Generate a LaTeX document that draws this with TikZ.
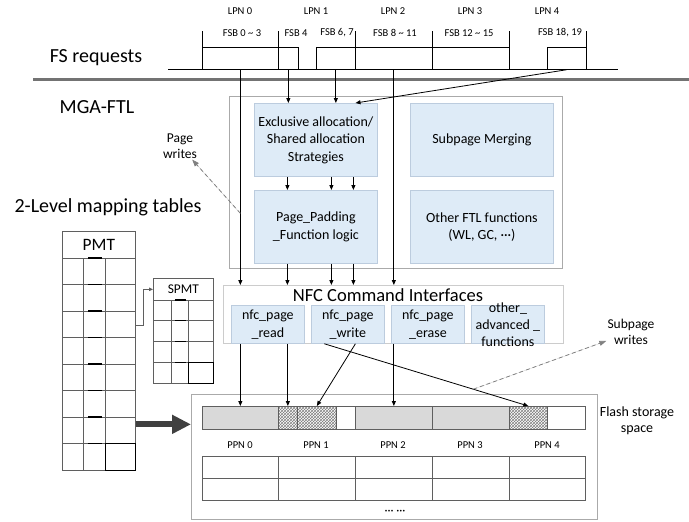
\documentclass[tikz,border=0pt]{standalone}
\usepackage{fontspec}
\setmainfont{Carlito}
\usetikzlibrary{positioning,arrows.meta,patterns,calc}
\definecolor{fnblue}{RGB}{222,235,247}
\definecolor{fnedge}{RGB}{188,204,222}
\definecolor{framegray}{RGB}{170,170,170}
\definecolor{pagegray}{RGB}{217,217,217}
\definecolor{linegray}{RGB}{95,95,95}
\tikzset{
  flowarrow/.style={-{Triangle[length=5pt,width=4pt]}, line width=0.8pt},
  writearrow/.style={-{Triangle[length=7pt,width=5pt]}, dash pattern=on 4pt off 3pt, draw=gray, fill=gray, line width=0.8pt},
  bigarrow/.style={-{Triangle[length=19pt,width=18pt]}, line width=6pt, draw=black!75},
  fnbox/.style={draw=fnedge, fill=fnblue, line width=0.8pt, anchor=north west, inner sep=0pt, align=center, font=\fontsize{14}{17.5}\selectfont},
  fntext/.style={font=\fontsize{14}{17.5}\selectfont, align=center, inner sep=0pt},
  ftlframe/.style={draw=framegray, line width=0.8pt, anchor=north west, inner sep=0pt},
  reqbox/.style={draw, line width=0.7pt, anchor=north west, inner sep=0pt, minimum height=22pt},
  pagecell/.style={draw=linegray, line width=0.7pt, anchor=north west, inner sep=0pt, minimum height=23pt},
  tabcell/.style={draw=linegray, line width=0.7pt, anchor=north west, inner sep=0pt},
  tinylabel/.style={font=\fontsize{10.5}{12}\selectfont, inner sep=0pt},
  sidelabel/.style={font=\fontsize{14}{16}\selectfont, inner sep=1pt, align=center},
  headlabel/.style={font=\fontsize{20}{24}\selectfont, inner sep=0pt}
}

\begin{document}
\begin{tikzpicture}[x=1pt, y=-1pt, >=Latex]
  \useasboundingbox (0,0) rectangle (689,522);

  % FS requests
  \node[headlabel] (fsreq) at (96,58) {FS requests};
  \draw[line width=3pt, draw=black!55] (33,79) -- (689,79);
  \draw[line width=0.7pt] (168,69) -- (618,69);
  \foreach \x in {202,278,355,432,509,586} \draw[line width=0.7pt] (\x,31) -- (\x,69);
  \foreach \x/\n in {240/0,316/1,393/2,470/3,547/4} \node[tinylabel] (lpn\n) at (\x,11) {LPN \n};
  \foreach \x/\t [count=\i] in {242/{FSB 0 \textasciitilde{} 3},296/{FSB 4},337/{FSB 6, 7},395/{FSB 8 \textasciitilde{} 11},469/{FSB 12 \textasciitilde{} 15},560/{FSB 18, 19}}
    \node[tinylabel] (fsbtext\i) at (\x,33) {\t};
  \node[reqbox, minimum width=76pt] (fsb0) at (202,47) {};
  \node[reqbox, minimum width=20pt] (fsb4) at (278,47) {};
  \node[reqbox, minimum width=39pt] (fsb67) at (316,47) {};
  \node[reqbox, minimum width=77pt] (fsb811) at (355,47) {};
  \node[reqbox, minimum width=77pt] (fsb1215) at (432,47) {};
  \node[reqbox, minimum width=39pt] (fsb1819) at (547,47) {};

  % MGA-FTL
  \node[headlabel] (mga) at (97,107) {MGA-FTL};
  \node[ftlframe, minimum width=333pt, minimum height=172pt] (ftl) at (229,96) {};
  \node[fnbox, minimum width=123pt, minimum height=73pt] (excl) at (254,103) {Exclusive allocation/\\Shared allocation\\Strategies};
  \node[fnbox, minimum width=123pt, minimum height=73pt] (pad) at (254,190) {Page\_Padding\\\_Function logic};
  \node[fnbox, minimum width=143pt, minimum height=73pt] (merge) at (410,103) {Subpage Merging};
  \node[fnbox, minimum width=143pt, minimum height=73pt] (other) at (410,190) {Other FTL functions\\(WL, GC, ···)};

  % NFC
  \node[ftlframe, draw=black!20, minimum width=340pt, minimum height=58pt] (nfc) at (223,285) {};
  \node[font=\fontsize{18.5}{22}\selectfont, inner sep=0pt] (nfctitle) at (388,295) {NFC Command Interfaces};
  \node[fnbox, minimum width=73pt, minimum height=38pt, font=\fontsize{14}{18}\selectfont] (read) at (231,305) {nfc\_page\\\_read};
  \node[fnbox, minimum width=73pt, minimum height=38pt, font=\fontsize{14}{18}\selectfont] (write) at (311,305) {nfc\_page\\\_write};
  \node[fnbox, minimum width=73pt, minimum height=38pt, font=\fontsize{14}{18}\selectfont] (erase) at (391,305) {nfc\_page\\\_erase};
  \node[fnbox, minimum width=73pt, minimum height=38pt,
        label={[fntext, font=\fontsize{14}{17}\selectfont]center:other\_\\advanced \_\\functions}] (adv) at (471,305) {};

  % requests into FTL
  \draw[flowarrow] (fsb0.south) -- (fsb0.south |- nfc.north);
  \draw[flowarrow] (fsb4.south) -- (fsb4.south |- excl.north);
  \draw[flowarrow] (fsb67.south) -- (fsb67.south |- excl.north);
  \draw[flowarrow] (fsb811.south) -- (fsb811.south |- nfc.north);
  \draw[flowarrow] (fsb1819.south) -- ($(excl.north)!0.64!(excl.north east)$);
  \foreach \d in {-28.5,15.5,37.5} {
    \draw[flowarrow] ([xshift=\d pt]excl.south) -- ([xshift=\d pt]pad.north);
    \draw[flowarrow] ([xshift=\d pt]pad.south) -- ([xshift=\d pt]pad.south |- nfc.north);
  }

  % flash storage
  \node[ftlframe, minimum width=406pt, minimum height=125pt] (flash) at (191,394) {};
  \node[pagecell, fill=pagegray, minimum width=76pt] (fl0) at (202,406) {};
  \node[pagecell, pattern=crosshatch, pattern color=black!50, minimum width=19pt] (fl1a) at (278,406) {};
  \node[pagecell, pattern=crosshatch, pattern color=black!50, minimum width=39pt] (fl1b) at (297,406) {};
  \node[pagecell, minimum width=19pt] (fl1c) at (336,406) {};
  \node[pagecell, fill=pagegray, minimum width=77pt] (fl2) at (355,406) {};
  \node[pagecell, fill=pagegray, minimum width=77pt] (fl3) at (432,406) {};
  \node[pagecell, pattern=crosshatch, pattern color=black!50, minimum width=38pt] (fl4a) at (509,406) {};
  \node[pagecell, minimum width=38pt] (fl4b) at (547,406) {};
  \foreach \x/\n in {240/0,316/1,393/2,470/3,547/4} \node[tinylabel] (ppn\n) at (\x,445) {PPN \n};
  \draw[linegray, line width=0.7pt] (202,456) rectangle (585,500);
  \draw[linegray, line width=0.7pt] (202,478) -- (585,478);
  \foreach \x in {278,355,432,509} \draw[linegray, line width=0.7pt] (\x,456) -- (\x,500);
  \node[tinylabel, font=\fontsize{12}{14}\selectfont] (more) at (395,512) {··· ···};
  \node[sidelabel] (flashlbl) at (637,421) {Flash storage\\space};

  % commands into flash
  \draw[flowarrow] (fl0.north |- read.south) -- (fl0.north);
  \draw[flowarrow] (fl1a.north |- read.south) -- (fl1a.north);
  \draw[flowarrow] ([xshift=7.5pt]write.south) -- (fl1b.north);
  \draw[flowarrow] (fl2.north |- erase.south) -- (fl2.north);
  \coordinate (longtail) at ([xshift=-23.5pt]write.south);
  \draw[flowarrow] (longtail) -- (fl4a.north);

  % write labels
  \node[sidelabel, font=\fontsize{13.5}{16}\selectfont] (pagewr) at (180,146) {Page\\writes};
  \draw[writearrow] ($(fsb0.south)!0.667!(fsb0.south |- nfc.north)$) -- (pagewr);
  \node[sidelabel, font=\fontsize{13.5}{16}\selectfont] (subwr) at (631,332) {Subpage\\writes};
  \draw[writearrow] ($(longtail)!0.73!(fl4a.north)$) -- (subwr);

  % mapping tables
  \node[headlabel] (maptabs) at (108,207) {2-Level mapping tables};
  \node[tabcell, minimum width=73pt, minimum height=27pt, font=\fontsize{17.4}{20}\selectfont] (pmt) at (62,231) {PMT};
  \node[tabcell, minimum width=73pt, minimum height=212pt] (pmtbody) at (62,258) {};
  \foreach \i in {1,...,7} \draw[linegray, line width=0.7pt] (62,{258+26.5*\i}) -- (135,{258+26.5*\i});
  \foreach \x in {83,105} \draw[linegray, line width=0.7pt] (\x,258) -- (\x,470);
  \foreach \i in {0,...,7} \draw[line width=1.2pt] (88,{258+26.5*\i}) -- (102,{258+26.5*\i});
  \draw[line width=0.8pt] (105,443.5) rectangle (135,470);

  \node[tabcell, minimum width=60pt, minimum height=22pt, font=\fontsize{13.4}{16}\selectfont] (spmt) at (153,278) {SPMT};
  \node[tabcell, minimum width=60pt, minimum height=83pt] (spmtbody) at (153,300) {};
  \foreach \i in {1,...,3} \draw[linegray, line width=0.7pt] (153,{300+20.75*\i}) -- (213,{300+20.75*\i});
  \foreach \x in {171,188} \draw[linegray, line width=0.7pt] (\x,300) -- (\x,383);
  \foreach \i in {0,...,3} \draw[line width=1.2pt] (175,{300+20.75*\i}) -- (186,{300+20.75*\i});
  \draw[line width=0.8pt] (188,362.25) rectangle (213,383);

  \draw[-{Triangle[length=4pt,width=3.5pt]}, linegray, line width=0.8pt] ([yshift=39pt]pmtbody.east) -- ++(8,0) |- (spmt.west);
  \coordinate (bigtail) at ([yshift=-60pt]pmtbody.east);
  \draw[bigarrow] (bigtail) -- (bigtail -| flash.west);
\end{tikzpicture}
\end{document}
